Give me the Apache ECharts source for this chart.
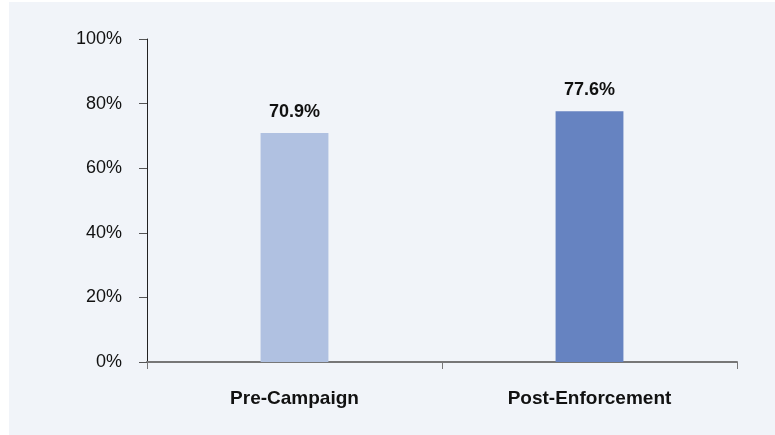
<!DOCTYPE html>
<html>
<head>
<meta charset="utf-8">
<script src="https://cdn.jsdelivr.net/npm/echarts@6/dist/echarts.min.js"></script>
<style>
  html, body { margin: 0; padding: 0; background: #ffffff; }
  #chart { position: absolute; left: 9px; top: 2px; width: 766px; height: 433px; }
</style>
</head>
<body>
<div id="chart"></div>
<script>
// data
const categories = ['Pre-Campaign', 'Post-Enforcement']
const values = [70.9, 77.6]
const barColors = ['#b0c1e1', '#6683c1']

const font = '"Liberation Sans", Arial, sans-serif'

const chart = echarts.init(document.getElementById('chart'))
chart.setOption({
  backgroundColor: '#f1f4f9',
  animation: false,
  grid: {
    left: 138,
    right: 38,
    top: 37,
    bottom: 73
  },
  xAxis: {
    type: 'category',
    data: categories,
    axisLine: { lineStyle: { color: '#777777', width: 2 } },
    axisTick: { show: true, length: 7, lineStyle: { color: '#777777', width: 1 } },
    axisLabel: {
      margin: 27,
      color: '#111111',
      fontFamily: font,
      fontSize: 19,
      fontWeight: 'bold'
    }
  },
  yAxis: {
    type: 'value',
    min: 0,
    max: 100,
    interval: 20,
    splitLine: { show: false },
    axisLine: { show: true, lineStyle: { color: '#222222', width: 1 } },
    axisTick: { show: true, length: 8, lineStyle: { color: '#555555' } },
    axisLabel: {
      formatter: '{value}%',
      margin: 25,
      color: '#111111',
      fontFamily: font,
      fontSize: 18
    }
  },
  series: [
    {
      type: 'bar',
      barWidth: '23%',
      data: values.map((v, i) => ({ value: v, itemStyle: { color: barColors[i] } })),
      label: {
        show: true,
        position: 'top',
        distance: 12,
        formatter: p => p.value.toFixed(1) + '%',
        color: '#111111',
        fontFamily: font,
        fontSize: 18,
        fontWeight: 'bold'
      }
    }
  ]
})
</script>
</body>
</html>
